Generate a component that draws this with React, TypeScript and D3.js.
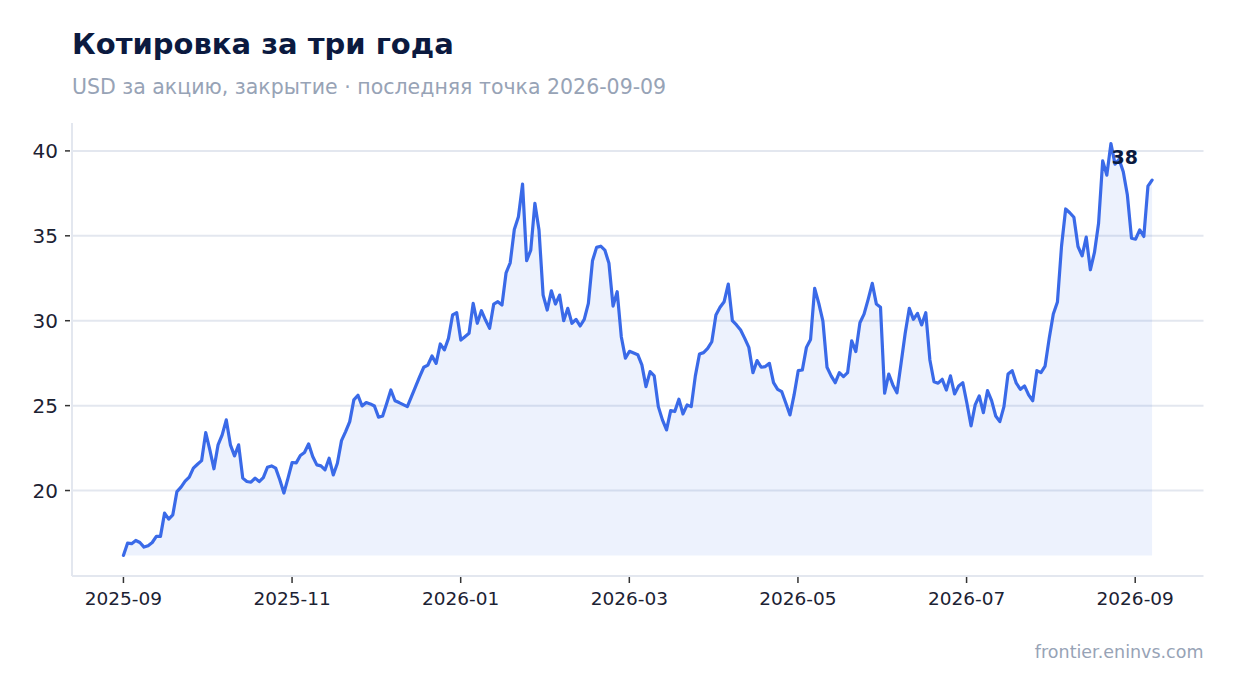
import { useEffect, useRef } from 'react'
import * as d3 from 'd3'

const TITLE = 'Котировка за три года'
const SUBTITLE = 'USD за акцию, закрытие · последняя точка 2026-09-09'
const SOURCE = 'frontier.eninvs.com'

// first and last observation, points are evenly spaced between them
const FIRST_DATE = '2025-09-01'
const LAST_DATE = '2026-09-07'

// closing prices
const closes = [
  16.18, 16.9, 16.87, 17.06, 16.94, 16.67, 16.75, 16.94, 17.3, 17.3,
  18.67, 18.32, 18.57, 19.94, 20.2, 20.55, 20.79, 21.32, 21.55, 21.76,
  23.41, 22.39, 21.28, 22.69, 23.28, 24.16, 22.69, 22.04, 22.69, 20.73,
  20.53, 20.49, 20.73, 20.53, 20.76, 21.37, 21.45, 21.32, 20.63, 19.85,
  20.73, 21.65, 21.63, 22.06, 22.24, 22.75, 22.0, 21.51, 21.45, 21.22,
  21.9, 20.92, 21.61, 22.94, 23.47, 24.06, 25.34, 25.61, 24.98, 25.18,
  25.1, 24.98, 24.32, 24.39, 25.14, 25.92, 25.29, 25.18, 25.06, 24.94,
  25.53, 26.12, 26.71, 27.26, 27.39, 27.92, 27.49, 28.63, 28.28, 28.96,
  30.34, 30.47, 28.86, 29.06, 29.26, 31.02, 29.85, 30.59, 30.04, 29.55,
  30.98, 31.12, 30.92, 32.82, 33.41, 35.37, 36.12, 38.04, 33.53, 34.16,
  36.91, 35.34, 31.51, 30.63, 31.76, 30.98, 31.51, 30.0, 30.73, 29.85,
  30.08, 29.69, 30.08, 31.02, 33.53, 34.32, 34.39, 34.16, 33.38, 30.86,
  31.71, 29.06, 27.8, 28.2, 28.1, 28.0, 27.4, 26.12, 27.0, 26.75,
  24.94, 24.16, 23.57, 24.71, 24.65, 25.38, 24.51, 25.04, 24.94, 26.75,
  28.04, 28.12, 28.37, 28.76, 30.34, 30.79, 31.12, 32.16, 30.0, 29.75,
  29.45, 28.96, 28.43, 26.94, 27.65, 27.26, 27.3, 27.49, 26.35, 25.96,
  25.82, 25.14, 24.45, 25.63, 27.06, 27.1, 28.43, 28.9, 31.9, 31.02,
  29.98, 27.26, 26.75, 26.35, 26.94, 26.71, 26.94, 28.82, 28.18, 29.88,
  30.39, 31.26, 32.2, 30.98, 30.79, 25.73, 26.86, 26.22, 25.76, 27.49,
  29.26, 30.73, 30.08, 30.43, 29.75, 30.47, 27.69, 26.41, 26.32, 26.55,
  25.92, 26.75, 25.69, 26.16, 26.35, 25.14, 23.81, 25.04, 25.57, 24.59,
  25.88, 25.29, 24.39, 24.06, 24.94, 26.86, 27.06, 26.32, 25.96, 26.16,
  25.63, 25.29, 27.06, 26.94, 27.33, 28.96, 30.4, 31.1, 34.4, 36.58,
  36.36, 36.09, 34.37, 33.82, 34.92, 33.0, 34.02, 35.74, 39.41, 38.57,
  40.43, 39.22, 39.5, 38.77, 37.4, 34.86, 34.8, 35.35, 34.96, 37.93,
  38.28
]

const yTicks = [20, 25, 30, 35, 40]
const xTickLabels = ['2025-09', '2025-11', '2026-01', '2026-03', '2026-05', '2026-07', '2026-09']

const WIDTH = 1234
const HEIGHT = 693
const FONT = 'DejaVu Sans, sans-serif'

// months elapsed since base's month, fractional within a month
function monthIndex(d: Date, base: Date) {
  const whole = (d.getUTCFullYear() - base.getUTCFullYear()) * 12 + d.getUTCMonth() - base.getUTCMonth()
  const start = d3.utcMonth.floor(d)
  const next = d3.utcMonth.offset(start, 1)
  return whole + (d.getTime() - start.getTime()) / (next.getTime() - start.getTime())
}

export default function App() {
  const svgRef = useRef<SVGSVGElement>(null)

  useEffect(() => {
    if (!svgRef.current) return
    const svg = d3.select(svgRef.current)
    svg.selectAll('*').remove()

    const margin = { top: 123, right: 30.5, bottom: 117, left: 72 }
    const innerBottom = HEIGHT - margin.bottom
    const innerRight = WIDTH - margin.right

    const base = new Date(FIRST_DATE + 'T00:00:00Z')
    const mStart = monthIndex(base, base)
    const mEnd = monthIndex(new Date(LAST_DATE + 'T00:00:00Z'), base)
    const data = closes.map((v, i) => ({
      m: mStart + ((mEnd - mStart) * i) / (closes.length - 1),
      value: v
    }))

    // 5% padding on both axes
    const mPad = (mEnd - mStart) * 0.05
    const x = d3.scaleLinear()
      .domain([mStart - mPad, mEnd + mPad])
      .range([margin.left, innerRight])

    const [minV, maxV] = d3.extent(closes) as [number, number]
    const pad = (maxV - minV) * 0.05
    const y = d3.scaleLinear()
      .domain([minV - pad, maxV + pad])
      .range([innerBottom, margin.top])

    // Title
    svg.append('text')
      .attr('x', 72)
      .attr('y', 54)
      .style('fill', '#0b1a3f')
      .style('font-size', '29px')
      .style('font-weight', '700')
      .style('font-family', FONT)
      .text(TITLE)

    svg.append('text')
      .attr('x', 72)
      .attr('y', 94)
      .style('fill', '#97a3b6')
      .style('font-size', '20.5px')
      .style('font-family', FONT)
      .text(SUBTITLE)

    // Gridlines
    svg.append('g')
      .selectAll('line')
      .data(yTicks)
      .join('line')
      .attr('x1', margin.left)
      .attr('x2', innerRight)
      .attr('y1', d => y(d))
      .attr('y2', d => y(d))
      .style('stroke', '#e3e7ef')
      .style('stroke-width', '2px')

    // Area down to the lowest close
    const area = d3.area<typeof data[0]>()
      .x(d => x(d.m))
      .y0(y(minV))
      .y1(d => y(d.value))

    svg.append('path')
      .datum(data)
      .attr('d', area)
      .style('fill', '#3a6be6')
      .style('fill-opacity', 0.09)

    const line = d3.line<typeof data[0]>()
      .x(d => x(d.m))
      .y(d => y(d.value))

    svg.append('path')
      .datum(data)
      .attr('d', line)
      .style('fill', 'none')
      .style('stroke', '#3a6ae8')
      .style('stroke-width', '3.2px')
      .style('stroke-linejoin', 'round')
      .style('stroke-linecap', 'round')

    // Axes lines
    svg.append('line')
      .attr('x1', margin.left)
      .attr('x2', margin.left)
      .attr('y1', margin.top)
      .attr('y2', innerBottom)
      .style('stroke', '#e3e7ef')
      .style('stroke-width', '2px')

    svg.append('line')
      .attr('x1', margin.left)
      .attr('x2', innerRight)
      .attr('y1', innerBottom)
      .attr('y2', innerBottom)
      .style('stroke', '#e3e7ef')
      .style('stroke-width', '2px')

    // Y ticks
    const yAxis = svg.append('g')
    yAxis.selectAll('line')
      .data(yTicks)
      .join('line')
      .attr('x1', margin.left - 7)
      .attr('x2', margin.left - 2)
      .attr('y1', d => y(d))
      .attr('y2', d => y(d))
      .style('stroke', '#333')
      .style('stroke-width', '1.5px')
    yAxis.selectAll('text')
      .data(yTicks)
      .join('text')
      .attr('x', margin.left - 14)
      .attr('y', d => y(d))
      .attr('dy', '0.36em')
      .attr('text-anchor', 'end')
      .style('fill', '#1c2233')
      .style('font-size', '20px')
      .style('font-family', FONT)
      .text(d => d)

    // X ticks, one every two months
    const xAxis = svg.append('g')
    xAxis.selectAll('line')
      .data(xTickLabels)
      .join('line')
      .attr('x1', (_, i) => x(mStart + i * 2))
      .attr('x2', (_, i) => x(mStart + i * 2))
      .attr('y1', innerBottom + 1)
      .attr('y2', innerBottom + 7)
      .style('stroke', '#333')
      .style('stroke-width', '1.5px')
    xAxis.selectAll('text')
      .data(xTickLabels)
      .join('text')
      .attr('x', (_, i) => x(mStart + i * 2))
      .attr('y', innerBottom + 29)
      .attr('text-anchor', 'middle')
      .style('fill', '#1c2233')
      .style('font-size', '18.5px')
      .style('font-family', FONT)
      .text(d => d)

    // Last value label
    const last = data[data.length - 1]
    svg.append('text')
      .attr('x', x(last.m) - 14)
      .attr('y', y(last.value) - 16)
      .attr('text-anchor', 'end')
      .style('fill', '#0b1a3f')
      .style('font-size', '19px')
      .style('font-weight', '700')
      .style('font-family', FONT)
      .text(Math.round(last.value))

    // Source
    svg.append('text')
      .attr('x', innerRight)
      .attr('y', 658)
      .attr('text-anchor', 'end')
      .style('fill', '#97a3b6')
      .style('font-size', '17.5px')
      .style('font-family', FONT)
      .text(SOURCE)
  }, [])

  return (
    <div style={{ position: 'absolute', left: 0, top: 0, background: '#fff' }}>
      <svg ref={svgRef} width={WIDTH} height={HEIGHT} />
    </div>
  )
}
